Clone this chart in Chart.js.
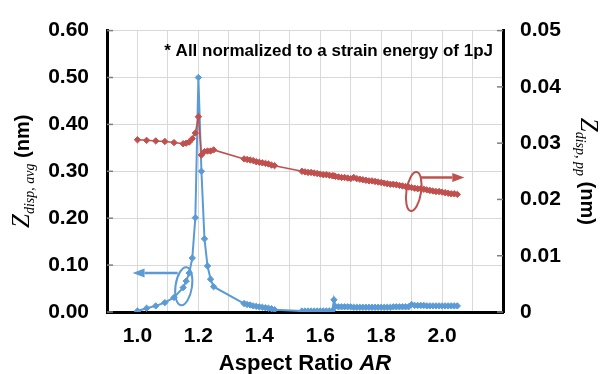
<!DOCTYPE html>
<html lang="en">
<head>
    <meta charset="UTF-8">
    <title>Z displacement vs Aspect Ratio</title>
    <script src="https://cdn.jsdelivr.net/npm/chart.js"></script>
    <style>
        html, body { margin: 0; padding: 0; background: #fff; }
        #wrap { width: 600px; height: 374px; position: relative; }
    </style>
</head>
<body>
    <div id="wrap"><canvas id="zChart"></canvas></div>

    <script>
        // --- data ---
        const arValues = [
            1.00, 1.03, 1.06, 1.09, 1.12, 1.15, 1.16, 1.17, 1.18, 1.19, 1.20, 1.21, 1.22, 1.23, 1.24, 1.25,
            1.35, 1.36, 1.37, 1.38, 1.39, 1.40, 1.41, 1.42, 1.43, 1.44, 1.45,
            1.54, 1.55, 1.56, 1.57, 1.58, 1.59, 1.60, 1.61, 1.62, 1.63, 1.64, 1.645,
            1.65, 1.66, 1.67, 1.68, 1.69, 1.70, 1.71, 1.72, 1.73, 1.74, 1.75, 1.76, 1.77, 1.78, 1.79, 1.80,
            1.81, 1.82, 1.83, 1.84, 1.85, 1.86, 1.87, 1.88, 1.89, 1.90,
            1.91, 1.92, 1.93, 1.94, 1.95, 1.96, 1.97, 1.98, 1.99, 2.00, 2.01, 2.02, 2.03, 2.04, 2.05
        ];
        // Z_disp,avg (nm), left axis
        const zDispAvg = [
            0.002, 0.008, 0.013, 0.020, 0.031, 0.052, 0.066, 0.083, 0.115, 0.201, 0.500, 0.300, 0.156, 0.098, 0.070, 0.054,
            0.018, 0.016, 0.015, 0.013, 0.012, 0.011, 0.010, 0.009, 0.008, 0.007, 0.005,
            0.002, 0.002, 0.002, 0.002, 0.002, 0.002, 0.002, 0.002, 0.002, 0.002, 0.003, 0.026,
            0.012, 0.011, 0.011, 0.011, 0.011, 0.011, 0.010, 0.010, 0.010, 0.010, 0.010, 0.010, 0.010, 0.010, 0.010, 0.010,
            0.010, 0.010, 0.010, 0.011, 0.011, 0.011, 0.011, 0.011, 0.011, 0.016,
            0.014, 0.014, 0.014, 0.014, 0.013, 0.013, 0.013, 0.013, 0.013, 0.013, 0.013, 0.013, 0.013, 0.013, 0.013
        ];
        // Z_disp,pp (nm), right axis
        const zDispPP = [
            0.0306, 0.0305, 0.0304, 0.0303, 0.0301, 0.0299, 0.0300, 0.0302, 0.0308, 0.0318, 0.0347, 0.0279, 0.0285, 0.0286, 0.0286, 0.0288,
            0.0272, 0.0271, 0.0270, 0.0269, 0.0267, 0.0266, 0.0265, 0.0264, 0.0263, 0.0261, 0.0260,
            0.0250, 0.0249, 0.0248, 0.0248, 0.0247, 0.0246, 0.0245, 0.0244, 0.0244, 0.0243, 0.0242, 0.0242,
            0.0241, 0.0240, 0.0239, 0.0239, 0.0238, 0.0237, 0.0239, 0.0237, 0.0236, 0.0235, 0.0234, 0.0233, 0.0233, 0.0232, 0.0231, 0.0230,
            0.0229, 0.0228, 0.0227, 0.0227, 0.0226, 0.0225, 0.0224, 0.0223, 0.0222, 0.0221,
            0.0220, 0.0219, 0.0219, 0.0218, 0.0217, 0.0216, 0.0215, 0.0214, 0.0214, 0.0213, 0.0212, 0.0211, 0.0210, 0.0210, 0.0209
        ];
        const xTickLabels = ['1.0', '1.2', '1.4', '1.6', '1.8', '2.0'];
        const noteText = '* All normalized to a strain energy of 1pJ';

        // annotation spots, in data units: [AR, value]
        const noteAt = [1.088, 0.556];
        const blueOval = { at: [1.152, 0.055], rx: 0.027, ry: 0.041 };   // left axis
        const blueArrow = { from: [1.132, 0.083], to: [0.984, 0.083] };
        const redOval = { at: [1.907, 0.0214], rx: 0.024, ry: 0.0035 }; // right axis
        const redArrow = { from: [1.93, 0.0239], to: [2.073, 0.0239] };

        const BLUE = '#5B9BD5';
        const RED = '#C0504D';
        const SANS = "'Liberation Sans', Arial, sans-serif";
        const SERIF = "'Liberation Serif', 'Times New Roman', serif";

        const avgPoints = arValues.map((x, i) => ({ x, y: zDispAvg[i] }));
        const ppPoints = arValues.map((x, i) => ({ x, y: zDispPP[i] }));

        function arrow(ctx, x1, y1, x2, y2, color) {
            const ang = Math.atan2(y2 - y1, x2 - x1);
            const head = 12, half = 4.5;
            ctx.strokeStyle = color;
            ctx.fillStyle = color;
            ctx.lineWidth = 2.5;
            ctx.beginPath();
            ctx.moveTo(x1, y1);
            ctx.lineTo(x2 - Math.cos(ang) * head, y2 - Math.sin(ang) * head);
            ctx.stroke();
            ctx.beginPath();
            ctx.moveTo(x2, y2);
            ctx.lineTo(x2 - Math.cos(ang) * head - Math.sin(ang) * half, y2 - Math.sin(ang) * head + Math.cos(ang) * half);
            ctx.lineTo(x2 - Math.cos(ang) * head + Math.sin(ang) * half, y2 - Math.sin(ang) * head - Math.cos(ang) * half);
            ctx.closePath();
            ctx.fill();
        }

        function oval(ctx, xs, ys, o, color) {
            const cx = xs.getPixelForValue(o.at[0]);
            const cy = ys.getPixelForValue(o.at[1]);
            const rx = Math.abs(xs.getPixelForValue(o.at[0] + o.rx) - cx);
            const ry = Math.abs(ys.getPixelForValue(o.at[1] + o.ry) - cy);
            ctx.strokeStyle = color;
            ctx.lineWidth = 2;
            ctx.beginPath();
            ctx.ellipse(cx, cy, rx, ry, 0.15, 0, Math.PI * 2);
            ctx.stroke();
        }

        function drawRich(ctx, px, py, rot, sub) {
            const parts = [
                { t: 'Z', f: 'italic 25px ' + SERIF, dy: 0 },
                { t: 'disp, ' + sub, f: 'italic 14px ' + SERIF, dy: 5 },
                { t: ' (nm)', f: 'bold 20px ' + SANS, dy: 0 }
            ];
            let total = 0;
            parts.forEach(p => { ctx.font = p.f; p.w = ctx.measureText(p.t).width; total += p.w; });
            ctx.save();
            ctx.translate(px, py);
            ctx.rotate(rot);
            ctx.fillStyle = '#000';
            ctx.textAlign = 'left';
            ctx.textBaseline = 'alphabetic';
            let cx = -total / 2;
            parts.forEach(p => {
                ctx.font = p.f;
                ctx.fillText(p.t, cx, 8 + p.dy);
                cx += p.w;
            });
            ctx.restore();
        }

        // draws mixed-font rotated titles, inner tick marks, oval/arrow callouts and the note
        const extras = {
            id: 'extras',
            afterDraw(chart) {
                const ctx = chart.ctx;
                const { x, y, y2 } = chart.scales;
                const area = chart.chartArea;
                ctx.save();

                // inner tick marks
                ctx.strokeStyle = '#7f7f7f';
                ctx.lineWidth = 1.5;
                y.ticks.forEach(t => {
                    const py = y.getPixelForValue(t.value);
                    ctx.beginPath(); ctx.moveTo(area.left, py); ctx.lineTo(area.left + 6, py); ctx.stroke();
                });
                y2.ticks.forEach(t => {
                    const py = y2.getPixelForValue(t.value);
                    ctx.beginPath(); ctx.moveTo(area.right, py); ctx.lineTo(area.right - 6, py); ctx.stroke();
                });

                // callouts
                oval(ctx, x, y, blueOval, BLUE);
                arrow(ctx, x.getPixelForValue(blueArrow.from[0]), y.getPixelForValue(blueArrow.from[1]),
                    x.getPixelForValue(blueArrow.to[0]), y.getPixelForValue(blueArrow.to[1]), BLUE);
                oval(ctx, x, y2, redOval, RED);
                arrow(ctx, x.getPixelForValue(redArrow.from[0]), y2.getPixelForValue(redArrow.from[1]),
                    x.getPixelForValue(redArrow.to[0]), y2.getPixelForValue(redArrow.to[1]), RED);

                // note
                ctx.fillStyle = '#000';
                ctx.font = 'bold 17px ' + SANS;
                ctx.textAlign = 'left';
                ctx.textBaseline = 'middle';
                ctx.fillText(noteText, x.getPixelForValue(noteAt[0]), y.getPixelForValue(noteAt[1]));

                // axis titles
                const midY = (area.top + area.bottom) / 2;
                drawRich(ctx, 21, midY, -Math.PI / 2, 'avg');
                drawRich(ctx, 589, midY, Math.PI / 2, 'pp');

                ctx.font = 'bold 22px ' + SANS;
                ctx.textBaseline = 'middle';
                const a = 'Aspect Ratio ', b = 'AR';
                const wa = ctx.measureText(a).width;
                ctx.font = 'italic bold 22px ' + SANS;
                const wb = ctx.measureText(b).width;
                const cx = (area.left + area.right) / 2 - (wa + wb) / 2;
                ctx.textAlign = 'left';
                ctx.font = 'bold 22px ' + SANS;
                ctx.fillText(a, cx, 364);
                ctx.font = 'italic bold 22px ' + SANS;
                ctx.fillText(b, cx + wa, 364);
                ctx.restore();
            }
        };

        const tickFont = { family: SANS, size: 21, weight: 'bold' };

        new Chart(document.getElementById('zChart'), {
            type: 'line',
            data: {
                datasets: [
                    {
                        label: 'Z disp, pp', data: ppPoints, yAxisID: 'y2', order: 0,
                        borderColor: RED, backgroundColor: RED, borderWidth: 1.5,
                        pointStyle: 'rectRot', pointRadius: 3.2, pointBorderWidth: 1, tension: 0
                    },
                    {
                        label: 'Z disp, avg', data: avgPoints, yAxisID: 'y', order: 1,
                        borderColor: BLUE, backgroundColor: BLUE, borderWidth: 2,
                        pointStyle: 'rectRot', pointRadius: 3.2, pointBorderWidth: 1, tension: 0
                    }
                ]
            },
            options: {
                responsive: true,
                maintainAspectRatio: false,
                animation: false,
                devicePixelRatio: 1,
                layout: { padding: { top: 20, left: 0, right: 0, bottom: 0 } },
                plugins: { legend: { display: false }, tooltip: { enabled: false }, title: { display: false } },
                scales: {
                    x: {
                        type: 'linear', min: 0.9, max: 2.2,
                        afterFit(s) { s.height = 62; },
                        grid: { color: '#d9d9d9', drawTicks: false },
                        border: { color: '#000', width: 3 },
                        ticks: {
                            stepSize: 0.1, autoSkip: false, maxRotation: 0, padding: 12,
                            color: '#000', font: tickFont,
                            callback: v => {
                                const s = (Math.round(v * 10) / 10).toFixed(1);
                                return xTickLabels.includes(s) ? s : '';
                            }
                        }
                    },
                    y: {
                        position: 'left', min: 0, max: 0.6,
                        afterFit(s) { s.width = 107; },
                        grid: { color: '#d9d9d9', drawTicks: false },
                        border: { color: '#000', width: 3 },
                        ticks: { stepSize: 0.1, padding: 18, color: '#000', font: tickFont, callback: v => v.toFixed(2) }
                    },
                    y2: {
                        position: 'right', min: 0, max: 0.05,
                        afterFit(s) { s.width = 97; },
                        grid: { drawOnChartArea: false, drawTicks: false },
                        border: { color: '#000', width: 3 },
                        ticks: {
                            stepSize: 0.01, padding: 17, color: '#000', font: tickFont,
                            callback: v => Math.abs(v) < 1e-9 ? '0' : v.toFixed(2)
                        }
                    }
                }
            },
            plugins: [extras]
        });
    </script>
</body>
</html>
